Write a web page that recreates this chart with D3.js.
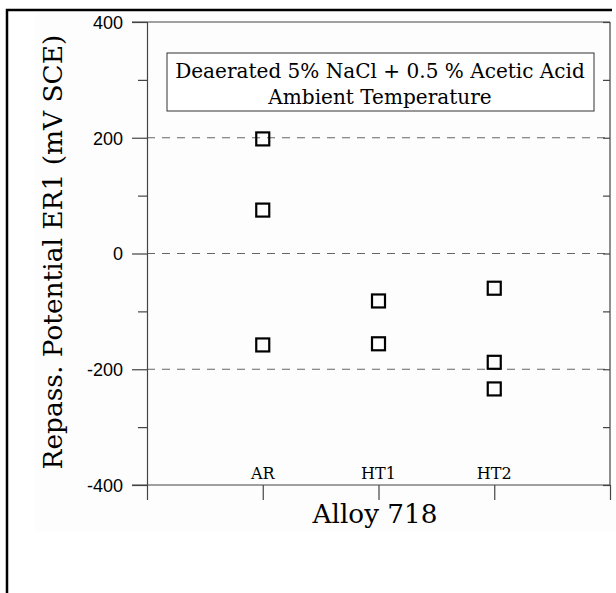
<!DOCTYPE html>
<html>
<head>
<meta charset="utf-8">
<script src="https://cdn.jsdelivr.net/npm/d3@7"></script>
<style>
  body { margin: 0; background: #fff; }
  svg { display: block; }
</style>
</head>
<body>
<svg id="chart" width="616" height="593"></svg>
<script>
// categories along the x axis and the measured repassivation potentials
var categories = ["AR", "HT1", "HT2"];
var arValues = [198, 75, -158];
var ht1Values = [-82, -156];
var ht2Values = [-60, -188, -234];
var yTicks = [-400, -200, 0, 200, 400];
var yMinorTicks = [-300, -100, 100, 300];
var gridLines = [-200, 0, 200];
var noteLines = ["Deaerated 5% NaCl + 0.5 % Acetic Acid", "Ambient Temperature"];

var series = [
  { cat: "AR", vals: arValues },
  { cat: "HT1", vals: ht1Values },
  { cat: "HT2", vals: ht2Values }
];

var svg = d3.select("#chart");
var plotL = 147, plotR = 610, plotT = 22, plotB = 485;
var serif = "'DejaVu Serif', serif";
var sans = "'Liberation Sans', Arial, sans-serif";

// faint page background and the outer frame
svg.append("rect").attr("x", 35).attr("y", 12).attr("width", 581).attr("height", 520)
  .attr("fill", "#fdfdfd");
svg.append("path").attr("d", "M7,593 V10 H612")
  .attr("fill", "none").attr("stroke", "#000").attr("stroke-width", 2.5);

// x positions: the frame edges sit at index 0 and 4, categories at 1..3
var x = d3.scaleLinear().domain([0, 4]).range([plotL, plotR]);
var xOf = function(c) { return x(categories.indexOf(c) + 1); };
var y = d3.scaleLinear().domain([-400, 400]).range([plotB, plotT]);

var ax = "#444";

// dashed grid
svg.append("g").selectAll("line").data(gridLines).enter().append("line")
  .attr("x1", plotL).attr("x2", plotR)
  .attr("y1", function(d) { return y(d); }).attr("y2", function(d) { return y(d); })
  .attr("stroke", "#666").attr("stroke-width", 1).attr("stroke-dasharray", "8,7");

// left axis (plain hyphen for negatives, like the original)
var yAxis = svg.append("g").attr("transform", "translate(" + plotL + ",0)")
  .call(d3.axisLeft(y).tickValues(yTicks).tickSize(15).tickPadding(9)
    .tickFormat(function(d) { return String(d); }));
svg.append("g").attr("transform", "translate(" + plotL + ",0)")
  .call(d3.axisLeft(y).tickValues(yMinorTicks).tickSize(9).tickFormat(""))
  .select(".domain").remove();
yAxis.selectAll("text").attr("font-family", sans).attr("font-size", 18).attr("fill", "#000")
  .attr("dy", "0.36em");

// right axis, ticks pointing inwards
svg.append("g").attr("transform", "translate(" + plotR + ",0)")
  .call(d3.axisLeft(y).tickValues(yMinorTicks.concat(yTicks)).tickSize(7).tickFormat(""))
  .select(".domain").attr("d", "M0," + plotT + "V" + plotB);

// bottom axis, extends a little left of the frame
var xAxis = svg.append("g").attr("transform", "translate(0," + plotB + ")")
  .call(d3.axisBottom(x).tickValues([0, 1, 2, 3, 4]).tickSize(15).tickFormat(""));
xAxis.select(".domain").attr("d", "M132,0H" + plotR);

// top frame line
svg.append("line").attr("x1", 132).attr("x2", plotR).attr("y1", plotT).attr("y2", plotT)
  .attr("stroke", ax);

svg.selectAll(".domain, .tick line").attr("stroke", ax).attr("stroke-width", 1.2);

// category labels sit just above the x axis
svg.append("g").selectAll("text").data(categories).enter().append("text")
  .attr("x", function(d) { return xOf(d); }).attr("y", plotB - 6)
  .attr("text-anchor", "middle").attr("font-family", serif).attr("font-size", 16)
  .text(function(d) { return d; });

// squares
var pts = [];
series.forEach(function(s) {
  s.vals.forEach(function(v) { pts.push({ cat: s.cat, v: v }); });
});
var sq = 13;
svg.append("g").selectAll("rect").data(pts).enter().append("rect")
  .attr("x", function(d) { return xOf(d.cat) - sq / 2; })
  .attr("y", function(d) { return y(d.v) - sq / 2; })
  .attr("width", sq).attr("height", sq)
  .attr("fill", "none").attr("stroke", "#000").attr("stroke-width", 2.2);

// note box
svg.append("rect").attr("x", 167).attr("y", 53).attr("width", 427).attr("height", 58)
  .attr("fill", "#fff").attr("stroke", "#333").attr("stroke-width", 1);
function fit(sel, w) {
  var n = sel.node(), fs = +sel.attr("font-size");
  sel.attr("font-size", fs * w / n.getComputedTextLength());
}
var note1 = svg.append("text").attr("x", 380).attr("y", 78).attr("text-anchor", "middle")
  .attr("font-family", serif).attr("font-size", 18).text(noteLines[0]);
fit(note1, 410);
var fsNote = +note1.attr("font-size");
svg.append("text").attr("x", 380).attr("y", 104).attr("text-anchor", "middle")
  .attr("font-family", serif).attr("font-size", fsNote).text(noteLines[1]);

// axis titles
var xt = svg.append("text").attr("x", 375).attr("y", 523).attr("text-anchor", "middle")
  .attr("font-family", serif).attr("font-size", 22).text("Alloy 718");
fit(xt, 125);
var yt = svg.append("text").attr("transform", "translate(62,252) rotate(-90)")
  .attr("text-anchor", "middle").attr("font-family", serif).attr("font-size", 22)
  .text("Repass. Potential ER1 (mV SCE)");
fit(yt, 435);
</script>
</body>
</html>
